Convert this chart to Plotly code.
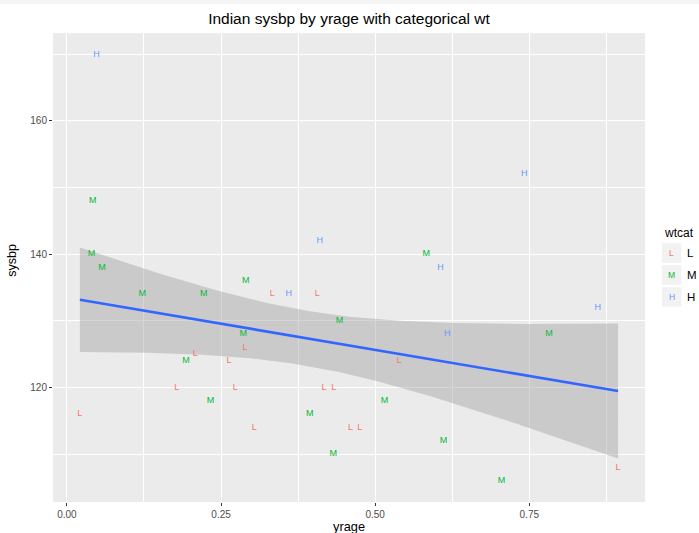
import numpy as np
import plotly.graph_objects as go

# Peruvian Indian data: years-since-migration ratio, systolic BP, weight category
yrage = [0.048, 0.042, 0.742, 0.410, 0.583, 0.606, 0.040, 0.057, 0.122, 0.222,
         0.290, 0.333, 0.360, 0.406, 0.442, 0.861, 0.617, 0.782, 0.286, 0.289,
         0.208, 0.193, 0.263, 0.539, 0.178, 0.273, 0.417, 0.433, 0.021, 0.233,
         0.394, 0.515, 0.304, 0.460, 0.475, 0.611, 0.432, 0.705, 0.894]
sysbp = [170, 148, 152, 142, 140, 138, 140, 138, 134, 134,
         136, 134, 134, 134, 130, 132, 128, 128, 128, 126,
         125, 124, 124, 124, 120, 120, 120, 120, 116, 118,
         116, 118, 114, 114, 114, 112, 110, 106, 108]
wtcat = ["H", "M", "H", "H", "M", "H", "M", "M", "M", "M",
         "M", "L", "H", "L", "M", "H", "H", "M", "M", "L",
         "L", "M", "L", "L", "L", "L", "L", "L", "L", "M",
         "M", "M", "L", "L", "L", "M", "M", "M", "L"]

levels = ["L", "M", "H"]
colors = {"L": "#F8766D", "M": "#00BA38", "H": "#619CFF"}

x = np.array(yrage, dtype=float)
y = np.array(sysbp, dtype=float)

# linear fit with 95% confidence band
n = len(x)
slope, intercept = np.polyfit(x, y, 1)
resid = y - (intercept + slope * x)
s = np.sqrt(np.sum(resid ** 2) / (n - 2))
xbar = x.mean()
sxx = np.sum((x - xbar) ** 2)
tq = 2.026  # t quantile, 37 df
xs = np.linspace(x.min(), x.max(), 80)
ys = intercept + slope * xs
se = s * np.sqrt(1.0 / n + (xs - xbar) ** 2 / sxx)
lo, hi = ys - tq * se, ys + tq * se

fig = go.Figure()
fig.add_trace(go.Scatter(
    x=np.concatenate([xs, xs[::-1]]), y=np.concatenate([hi, lo[::-1]]),
    fill="toself", fillcolor="rgba(153,153,153,0.4)", line=dict(width=0),
    mode="lines", hoverinfo="skip", showlegend=False))
fig.add_trace(go.Scatter(x=xs, y=ys, mode="lines",
                         line=dict(color="#3366FF", width=2.6), showlegend=False))
for lv in levels:
    idx = [i for i, w in enumerate(wtcat) if w == lv]
    fig.add_trace(go.Scatter(
        x=[yrage[i] for i in idx], y=[sysbp[i] for i in idx],
        mode="text", text=[lv] * len(idx),
        textfont=dict(color=colors[lv], size=9, family="Liberation Sans, Arial"),
        showlegend=False))

W, H = 699, 533
L_, R_, T_, B_ = 53, 645, 33, 502.5


def px(p):
    return (p - L_) / (R_ - L_)


def py(p):
    return (B_ - p) / (B_ - T_)


font = "Liberation Sans, Arial, sans-serif"
shapes, annos = [], []

# faint band along the top edge of the page
shapes.append(dict(type="rect", xref="paper", yref="paper",
                   x0=px(0), x1=px(W), y0=py(4), y1=py(0),
                   fillcolor="#F5F5F5", line=dict(width=0), layer="below"))

# legend keys drawn by hand
annos.append(dict(x=px(662), y=py(233), xref="paper", yref="paper", text="wtcat",
                  showarrow=False, xanchor="left", yanchor="middle",
                  font=dict(size=12, color="#000", family=font)))
key_tops = [243.5, 265.5, 287.5]
for lv, top in zip(levels, key_tops):
    shapes.append(dict(type="rect", xref="paper", yref="paper",
                       x0=px(662), x1=px(681.5), y0=py(top + 19.5), y1=py(top),
                       fillcolor="#F2F2F2", line=dict(width=0), layer="below"))
    annos.append(dict(x=px(671.8), y=py(top + 9.8), xref="paper", yref="paper", text=lv,
                      showarrow=False, xanchor="center", yanchor="middle",
                      font=dict(size=8.5, color=colors[lv], family=font)))
    annos.append(dict(x=px(684.5), y=py(top + 9.8), xref="paper", yref="paper", text=lv,
                      showarrow=False, xanchor="left", yanchor="middle",
                      font=dict(size=11.5, color="#000", family=font)))

# axis titles
annos.append(dict(x=px(349), y=py(527.5), xref="paper", yref="paper", text="yrage",
                  showarrow=False, xanchor="center", yanchor="middle",
                  font=dict(size=12.8, color="#000", family=font)))
annos.append(dict(x=px(12), y=py(261), xref="paper", yref="paper", text="sysbp",
                  showarrow=False, xanchor="center", yanchor="middle", textangle=-90,
                  font=dict(size=12.5, color="#000", family=font)))

fig.update_layout(
    width=W, height=H,
    margin=dict(l=L_, r=W - R_, t=T_, b=H - B_),
    paper_bgcolor="white", plot_bgcolor="#EBEBEB",
    title=dict(text="Indian sysbp by yrage with categorical wt", x=px(349), xref="paper",
               xanchor="center", y=1 - 19 / H, yanchor="middle",
               font=dict(size=15.5, color="#000", family=font)),
    showlegend=False, shapes=shapes, annotations=annos,
)
fig.update_xaxes(range=[-0.0226, 0.9377], tickvals=[0, 0.25, 0.5, 0.75],
                 ticktext=["0.00", "0.25", "0.50", "0.75"],
                 showgrid=True, gridcolor="white", gridwidth=1.1, zeroline=False,
                 minor=dict(tickvals=[0.125, 0.375, 0.625, 0.875], showgrid=True,
                            gridcolor="white", gridwidth=0.6),
                 ticks="outside", ticklen=3, tickcolor="#333", tickwidth=1,
                 tickfont=dict(size=10, color="#4D4D4D", family=font), showline=False)
fig.update_yaxes(range=[102.8, 173.2], tickvals=[120, 140, 160],
                 showgrid=True, gridcolor="white", gridwidth=1.1, zeroline=False,
                 minor=dict(tickvals=[110, 130, 150, 170], showgrid=True,
                            gridcolor="white", gridwidth=0.6),
                 ticks="outside", ticklen=3, tickcolor="#333", tickwidth=1,
                 tickfont=dict(size=10, color="#4D4D4D", family=font), showline=False)

fig.write_html("out.html")
